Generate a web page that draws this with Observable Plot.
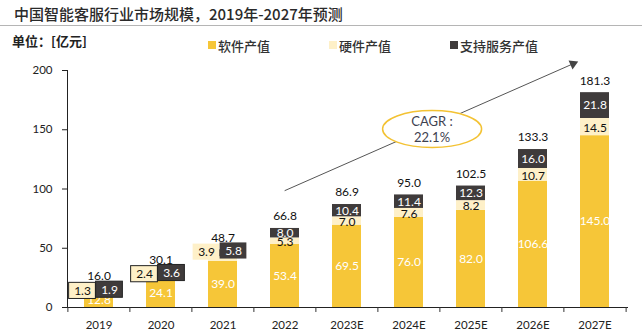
<!DOCTYPE html>
<html><head><meta charset="utf-8">
<script src="https://cdn.jsdelivr.net/npm/d3@7"></script>
<script src="https://cdn.jsdelivr.net/npm/@observablehq/plot@0.6"></script>
<style>
body{margin:0;background:#fff;}
#wrap{position:relative;width:642px;height:334px;overflow:hidden;font-family:"Noto Sans CJK SC",sans-serif;background:#fff;}
#title{position:absolute;left:14px;top:4px;font-size:15px;font-weight:500;line-height:20px;color:#2a2a2a;white-space:nowrap;}
#rule{position:absolute;left:0;top:25px;width:642px;height:1px;background:#b5b5b5;}
#unit{position:absolute;left:12px;top:31px;font-size:13px;font-weight:bold;line-height:20px;color:#222;white-space:nowrap;}
.lg{position:absolute;top:35px;height:20px;display:flex;align-items:center;font-size:13px;font-weight:500;color:#333;white-space:nowrap;}
.sw{display:inline-block;width:8px;height:8px;margin-right:2px;}
#chart{position:absolute;left:0;top:55px;}
</style></head>
<body>
<div id="wrap">
  <div id="title">中国智能客服行业市场规模，2019年-2027年预测</div>
  <div id="rule"></div>
  <div id="unit">单位：[亿元]</div>
  <div id="legend"></div>
  <div id="chart"></div>
</div>
<script>
const years = ["2019","2020","2021","2022","2023E","2024E","2025E","2026E","2027E"];
const software = [12.8,24.1,39.0,53.4,69.5,76.0,82.0,106.6,145.0];
const hardware = [1.3,2.4,3.9,5.3,7.0,7.6,8.2,10.7,14.5];
const support  = [1.9,3.6,5.8,8.0,10.4,11.4,12.3,16.0,21.8];
const totals   = [16.0,30.1,48.7,66.8,86.9,95.0,102.5,133.3,181.3];
const seriesNames = ["软件产值","硬件产值","支持服务产值"];
const seriesColors = ["#F6C638","#FEF0C8","#3F3B3B"];
const yTicks = [0,50,100,150,200];
const sideYears = ["2019","2020","2021"];   // small segments labelled in callout boxes
const cagrText = "CAGR :\n22.1%";

// legend
const legendX = [208,329,450];
const lg = document.getElementById("legend");
seriesNames.forEach((n,i)=>{
  const d = document.createElement("div");
  d.className = "lg"; d.style.left = legendX[i]+"px";
  d.innerHTML = `<span class="sw" style="background:${seriesColors[i]}"></span><span>${n}</span>`;
  lg.appendChild(d);
});

const seriesValues = [software, hardware, support];
const long = [];
seriesNames.forEach((s,si)=> years.forEach((y,i)=> long.push({year:y, series:s, value:seriesValues[si][i]})));
const totalData = years.map((y,i)=>({year:y, total:totals[i]}));
const sideData = years.map((y,i)=>({year:y, total:totals[i], hw:hardware[i], sp:support[i]})).filter(d=>sideYears.includes(d.year));
const fmt = v => v.toFixed(1);

const W = 642, H = 279, mL = 67, mR = 15;
const step = (W - mL - mR) / years.length;
const pad = 0.53;
const bw = step * (1 - pad);
const half = bw / 2;

const ellipseSymbol = {draw(ctx){
  const rx = 49.5, ry = 18.5, k = 0.5523;
  ctx.moveTo(rx,0);
  ctx.bezierCurveTo(rx, ry*k, rx*k, ry, 0, ry);
  ctx.bezierCurveTo(-rx*k, ry, -rx, ry*k, -rx, 0);
  ctx.bezierCurveTo(-rx, -ry*k, -rx*k, -ry, 0, -ry);
  ctx.bezierCurveTo(rx*k, -ry, rx, -ry*k, rx, 0);
  ctx.closePath();
}};
const arrowData = [{x1:"2022", y1:98.7, x2:"2027E", y2:213.8}];
const arrowTip = [{x:"2027E", y:205.6}];
const cagrData = [{x:"2024E", y:150.6}];

const chart = Plot.plot({
  width: W, height: H,
  marginLeft: mL, marginRight: mR, marginTop: 15, marginBottom: 27,
  style: {fontFamily: "Lato, 'Noto Sans CJK SC', sans-serif", fontSize: "11.5px", color: "#222", background: "transparent"},
  x: {domain: years, paddingInner: pad, paddingOuter: pad/2, label: null, tickSize: 0, tickPadding: 13, line: true},
  y: {domain: [0,200], ticks: yTicks, tickSize: 5, tickPadding: 10, label: null, line: true},
  color: {domain: seriesNames, range: seriesColors},
  marks: [
    Plot.barY(long, {x: "year", y: "value", fill: "series"}),
    // category separator ticks
    Plot.ruleX(years, {x: d=>d, dx: -step/2, y1: 0, y2: -4.2, stroke: "#333"}),
    Plot.ruleX([years[years.length-1]], {x: d=>d, dx: step/2, y1: 0, y2: -4.2, stroke: "#333"}),
    // segment labels
    Plot.text(long, Plot.stackY({x: "year", y: "value", z: "series",
      text: d => d.series === seriesNames[0] ? fmt(d.value) : "", fill: "white", fontSize: 12})),
    Plot.text(long, Plot.stackY({x: "year", y: "value", z: "series",
      text: d => d.series === seriesNames[1] && !sideYears.includes(d.year) ? fmt(d.value) : "", fill: "#111", fontSize: 12, dy: 1})),
    Plot.text(long, Plot.stackY({x: "year", y: "value", z: "series",
      text: d => d.series === seriesNames[2] && !sideYears.includes(d.year) ? fmt(d.value) : "", fill: "white", fontSize: 12})),
    // totals
    Plot.text(totalData, {x: "year", y: "total", text: d => fmt(d.total), dy: -12, fill: "#111", fontSize: 12}),
    // callout boxes for small early segments
    Plot.barY(sideData, {x: "year", y1: d=>d.total-8.8, y2: d=>d.total+4.8,
      insetLeft: half-30, insetRight: half+3, fill: seriesColors[1],
      stroke: d => d.year === "2021" ? "none" : "#222", strokeWidth: 1}),
    Plot.barY(sideData, {x: "year", y1: d=>d.total-7.8, y2: d=>d.total+5.8,
      insetLeft: half-3, insetRight: half-24, fill: seriesColors[2],
      stroke: d => d.year === "2021" ? "none" : "#222", strokeWidth: 1}),
    Plot.text(sideData, {x: "year", y: d=>d.total-2, text: d => fmt(d.hw), dx: -16.5, fill: "#111", fontSize: 12}),
    Plot.text(sideData, {x: "year", y: d=>d.total-1, text: d => fmt(d.sp), dx: 10.5, fill: "white", fontSize: 12}),
    // CAGR arrow + ellipse
    Plot.arrow(arrowData, {x1: "x1", y1: "y1", x2: "x2", y2: "y2", insetEnd: 22, stroke: "#555", strokeWidth: 1, headLength: 0}),
    Plot.dot(arrowTip, {x: "x", y: "y", dx: -21.9, symbol: "triangle", r: 3.6, rotate: 66, fill: "#444", stroke: "none"}),
    Plot.dot(cagrData, {x: "x", y: "y", dx: 23.1, symbol: ellipseSymbol, fill: "white", stroke: "#F3C233", strokeWidth: 1.5}),
    Plot.text(cagrData, {x: "x", y: "y", dx: 23, text: () => cagrText, fill: "#3d4150", fontSize: 13, lineHeight: 1.18})
  ]
});
document.getElementById("chart").appendChild(chart);
</script>
</body></html>
